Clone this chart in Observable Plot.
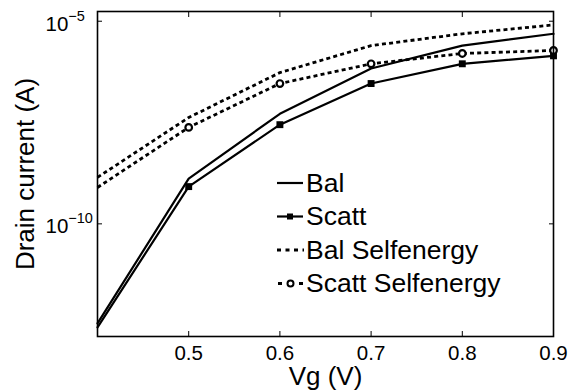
<!DOCTYPE html>
<html><head><meta charset="utf-8">
<script src="https://cdn.jsdelivr.net/npm/d3@7"></script>
<script src="https://cdn.jsdelivr.net/npm/@observablehq/plot@0.6"></script>
<style>
body{margin:0;background:#fff;}
#wrap{position:relative;width:576px;height:392px;font-family:"Liberation Sans",Arial,Helvetica,sans-serif;}
#legend{position:absolute;left:270px;top:160px;}
</style></head><body><div id="wrap"></div>
<script>
// ---- data ----
const vg = [0.4, 0.5, 0.6, 0.7, 0.8, 0.9];
const bal = [3.5e-13, 1.3e-9, 5.2e-8, 6.8e-7, 2.5e-6, 4.9e-6];
const scatt = [2.8e-13, 8.3e-10, 2.8e-8, 2.9e-7, 8.9e-7, 1.4e-6];
const balSelf = [1.4e-9, 4.2e-8, 5.4e-7, 2.5e-6, 4.9e-6, 8.1e-6];
const scattSelf = [7.9e-10, 2.4e-8, 2.9e-7, 8.9e-7, 1.6e-6, 1.9e-6];
const seriesNames = ["Bal", "Scatt", "Bal Selfenergy", "Scatt Selfenergy"];
const xTicks = [0.5, 0.6, 0.7, 0.8, 0.9];
const xTickLabels = ["0.5", "0.6", "0.7", "0.8", "0.9"];
const yTicks = [1e-10, 1e-5];
const yTickBase = ["10", "10"];
const yTickExponents = ["\u221210", "\u22125"];
const xLabel = "Vg (V)";
const yLabel = "Drain current (A)";
const xDomain = [0.4, 0.9];
const yDomain = [Math.pow(10, -12.78), Math.pow(10, -4.76)];

const toRows = (vals) => vg.map((v, i) => ({vg: v, current: vals[i]}));
const rowsBal = toRows(bal), rowsScatt = toRows(scatt),
      rowsBalSelf = toRows(balSelf), rowsScattSelf = toRows(scattSelf);
const inside = (d) => d.vg > xDomain[0];

const dash = "4,3.2";
const chart = Plot.plot({
  width: 576, height: 392,
  marginLeft: 97, marginRight: 23, marginTop: 11, marginBottom: 56,
  style: {fontFamily: '"Liberation Sans", Arial, Helvetica, sans-serif', fontSize: "20px", background: "white", color: "black"},
  x: {domain: xDomain},
  y: {type: "log", domain: yDomain},
  marks: [
    Plot.line(rowsBal, {x: "vg", y: "current", stroke: "black", strokeWidth: 2.2}),
    Plot.line(rowsScatt, {x: "vg", y: "current", stroke: "black", strokeWidth: 2.2}),
    Plot.line(rowsBalSelf, {x: "vg", y: "current", stroke: "black", strokeWidth: 2.8, strokeDasharray: dash, strokeLinecap: "butt", strokeLinejoin: "miter"}),
    Plot.line(rowsScattSelf, {x: "vg", y: "current", stroke: "black", strokeWidth: 2.8, strokeDasharray: dash, strokeLinecap: "butt", strokeLinejoin: "miter"}),
    Plot.dot(rowsScatt, {x: "vg", y: "current", filter: inside, symbol: "square", r: 3.9, fill: "black", stroke: "none"}),
    Plot.dot(rowsScattSelf, {x: "vg", y: "current", filter: inside, r: 3.3, fill: "white", stroke: "black", strokeWidth: 2.2}),
    Plot.frame({stroke: "black", strokeWidth: 1.6}),
    // inward ticks on all four sides
    Plot.axisX(xTicks, {anchor: "bottom", tickSize: -5, tickFormat: () => "", label: null, strokeWidth: 1}),
    Plot.axisX(xTicks, {anchor: "top", tickSize: -5, tickFormat: () => "", label: null, strokeWidth: 1}),
    Plot.axisY(yTicks, {anchor: "left", tickSize: -5, tickFormat: () => "", label: null, strokeWidth: 1}),
    Plot.axisY(yTicks, {anchor: "right", tickSize: -5, tickFormat: () => "", label: null, strokeWidth: 1}),
    // tick labels
    Plot.axisX(xTicks, {anchor: "bottom", tickSize: 0, tickPadding: 9, fontSize: 20.5,
      tickFormat: (d) => xTickLabels[xTicks.indexOf(d)], label: null}),
    Plot.axisY(yTicks, {anchor: "left", tickSize: 0, tickPadding: 52, textAnchor: "start", dy: 3, fontSize: 20.5,
      tickFormat: (d) => yTickBase[yTicks.indexOf(d)], label: null}),
    // axis titles
    Plot.axisX([], {anchor: "bottom", tickSize: 0, label: xLabel, labelAnchor: "center", labelArrow: "none", labelOffset: 48, fontSize: 26}),
    Plot.axisY([], {anchor: "left", tickSize: 0, label: yLabel, labelAnchor: "center", labelArrow: "none", labelOffset: 82, fontSize: 26})
  ]
});
document.getElementById("wrap").appendChild(chart);

// superscript exponents on the y tick labels
let k = 0;
d3.select(chart).selectAll("text").each(function() {
  if (this.textContent === yTickBase[k] && k < yTickExponents.length && this.closest('g[aria-label="y-axis tick label"]')) {
    d3.select(this).append("tspan").attr("font-size", 14.5).attr("dy", -10).text(yTickExponents[k]);
    k++;
  }
});

// ---- legend ----
const lg = d3.select("#wrap").append("svg").attr("id", "legend").attr("width", 290).attr("height", 140)
  .style("font-family", '"Liberation Sans", Arial, Helvetica, sans-serif');
const rowY = [23, 56.5, 90, 123.5];
seriesNames.forEach((name, i) => {
  const g = lg.append("g").attr("transform", `translate(0,${rowY[i]})`);
  if (i === 0 || i === 1) {
    g.append("line").attr("x1", 7).attr("x2", 33).attr("stroke", "black").attr("stroke-width", 2.2);
  } else if (i === 2) {
    g.append("line").attr("x1", 7).attr("x2", 34).attr("stroke", "black").attr("stroke-width", 2.8).attr("stroke-dasharray", "4,4.5");
  } else {
    g.append("line").attr("x1", 8).attr("x2", 33).attr("stroke", "black").attr("stroke-width", 2.8).attr("stroke-dasharray", "4,6.5");
  }
  if (i === 1) g.append("rect").attr("x", 17).attr("y", -3).attr("width", 6).attr("height", 6).attr("fill", "black");
  if (i === 3) g.append("circle").attr("cx", 20.5).attr("cy", 0).attr("r", 3).attr("fill", "white").attr("stroke", "black").attr("stroke-width", 2);
  g.append("text").attr("x", 36).attr("y", 8.5).attr("font-size", 26.5).text(name);
});
</script>
</body></html>
